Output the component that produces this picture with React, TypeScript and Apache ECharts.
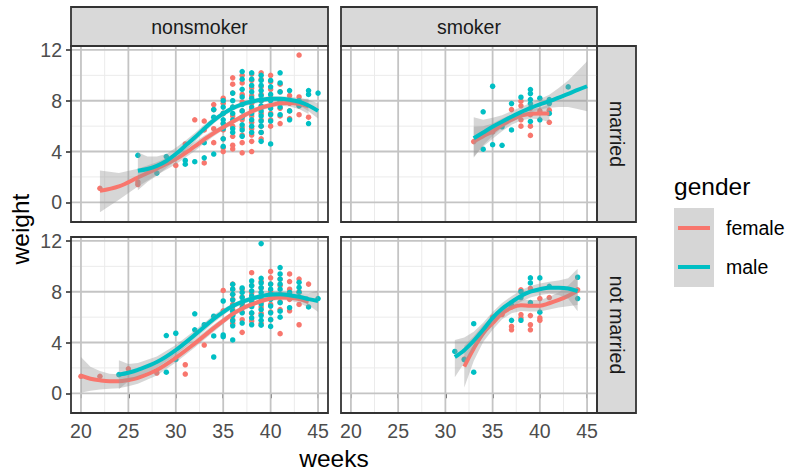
import React, { useEffect, useRef } from "react";
import * as echarts from "echarts";

const FEMALE = "#F8766D";
const MALE = "#00BFC4";
const FONT = '"Liberation Sans", Arial, Helvetica, sans-serif';

const weekTicks = [20, 25, 30, 35, 40, 45];
const weekMinor = [22.5, 27.5, 32.5, 37.5, 42.5];
const weightTicks = [0, 4, 8, 12];
const weightMinor = [2, 6, 10];
const smokeLevels = ["nonsmoker", "smoker"];
const maritalLevels = ["married", "not married"];
const genderLevels = ["female", "male"];

// points: [week, weight, weight, ...]
const ptsNsMarF = [
  [22, 1.1], [26, 1.4, 1.6], [30, 2.9], [31, 4.6], [32, 6.5], [33, 6.4, 5.7, 3.1],
  [34, 7.7, 7.3, 5.8, 4.7], [35, 8.2, 7.8, 7.0, 6.2, 5.7, 5.0, 4.3, 4.0],
  [36, 9.8, 9.3, 8.6, 7.5, 6.8, 6.0, 5.2, 4.5, 4.2],
  [37, 10.0, 9.4, 8.5, 7.9, 7.2, 6.5, 5.9, 5.3, 4.7, 3.9],
  [38, 10.1, 9.6, 9.0, 8.4, 7.8, 7.3, 6.8, 6.3, 5.8, 5.3, 4.8, 4.0],
  [39, 10.2, 9.7, 9.1, 8.5, 8.0, 7.5, 7.0, 6.5, 6.0, 5.5, 5.0],
  [40, 10.0, 9.5, 8.9, 8.2, 7.6, 7.0, 6.5, 6.0], [41, 9.3, 8.7, 8.0, 7.4, 6.8, 6.2],
  [42, 8.4, 7.8, 7.2, 6.6], [43, 11.6, 8.3, 7.6, 6.9], [44, 6.7],
];
const ptsNsMarM = [
  [26, 3.7], [28, 2.3], [29, 3.6], [31, 3.3, 3.0], [32, 3.2], [33, 4.7, 3.5], [34, 7.3, 6.7, 3.8],
  [35, 8.0, 7.5, 7.0, 6.5, 6.2, 5.8, 5.0, 4.4], [36, 8.6, 8.0, 7.5, 7.0, 6.5, 5.8, 5.5],
  [37, 10.3, 9.7, 8.9, 8.3, 7.7, 7.2, 6.7, 6.1, 5.7, 5.2],
  [38, 10.2, 9.7, 9.2, 8.7, 8.2, 7.5, 7.0, 6.5, 6.0, 5.5],
  [39, 10.0, 9.6, 9.2, 8.8, 8.4, 8.0, 7.6, 7.2, 6.8, 6.4, 6.0, 5.5, 4.8],
  [40, 9.6, 9.1, 8.5, 8.0, 7.4, 6.9, 6.4, 4.6], [41, 10.2, 9.4, 8.7, 8.0, 7.5, 6.9],
  [42, 8.8, 7.2, 6.5], [43, 8.0, 7.6], [44, 8.8, 8.5, 6.2], [45, 8.6],
];
const ptsSmMarF = [
  [33, 4.78], [35, 5.54], [37, 7.3], [38, 7.96, 7.6, 6.5, 6.0], [39, 7.4, 6.9, 6.0, 5.27],
  [40, 7.2], [41, 7.26, 6.3],
];
const ptsSmMarM = [
  [34, 7.13, 4.18], [35, 9.14, 4.54], [36, 5.95, 4.49], [37, 7.78, 5.7], [38, 8.28],
  [39, 8.88, 8.56, 8.09, 7.78, 6.37], [40, 8.2, 6.5], [41, 8.09, 7.78, 7.0], [43, 9.09],
];
const ptsNsNotF = [
  [20, 1.34], [22, 1.34], [25, 1.93], [28, 1.6], [31, 2.25, 1.52], [33, 3.8], [35, 8.1, 6.5],
  [36, 8.6, 8.2, 7.8, 7.4, 7.0, 6.6, 6.2, 5.8, 5.5], [37, 8.2, 7.6, 7.0, 6.4, 5.8, 4.8],
  [38, 9.5, 8.5, 7.9, 7.3, 6.9, 6.3, 5.7], [39, 8.8, 8.3, 7.7, 7.2, 6.8, 6.3, 5.5],
  [40, 9.6, 9.1, 8.6, 8.0, 7.5, 7.0, 6.4, 5.8], [41, 9.0, 8.5, 7.8, 7.2, 6.6, 4.7],
  [42, 9.4, 8.8, 8.2, 7.4, 6.5], [43, 9.0, 8.0, 7.0, 5.4], [44, 8.6],
];
const ptsNsNotM = [
  [24, 1.47], [29, 4.55, 1.66], [30, 4.73, 2.67], [32, 6.26, 5.0], [33, 5.4], [34, 6.07, 4.52, 2.86],
  [35, 7.27, 4.6, 4.46], [36, 8.58, 8.2, 7.8, 7.35, 6.87, 6.47, 6.12, 5.72, 5.32, 4.2],
  [37, 8.3, 7.94, 7.54, 7.14, 6.74, 6.34, 5.53], [38, 8.85, 8.48, 8.07, 7.67, 7.25, 6.82, 6.34, 5.94, 5.4],
  [39, 11.79, 9.06, 8.69, 8.32, 7.94, 7.46, 7.03, 6.6, 6.12, 5.75, 5.37],
  [40, 8.6, 8.2, 7.8, 7.4, 6.87, 6.34, 5.8, 5.27], [41, 9.9, 9.4, 9.0, 8.6, 8.2, 7.67, 7.14, 6.47, 6.0],
  [42, 7.94, 6.74], [43, 8.74, 8.34, 7.94], [44, 6.8], [45, 7.46],
];
const ptsSmNotF = [
  [32, 2.7], [34, 4.9], [35, 6.0], [36, 6.2], [37, 6.8, 5.27, 5.0], [38, 8.15, 6.2, 5.94],
  [39, 8.26, 6.12, 5.4, 5.0], [40, 7.46, 5.94, 5.75], [41, 7.54], [44, 8.15],
];
const ptsSmNotM = [
  [31, 3.3], [32, 2.65], [33, 5.48, 1.66], [37, 6.95, 5.75], [38, 8.0, 7.54, 5.75],
  [39, 9.09, 8.69, 7.14], [40, 9.09, 6.39], [41, 8.42], [44, 9.14, 7.46],
];

// loess fits: [week, fit, lower, upper]
const fitNsMarF = [
  [22, 0.9, -0.78, 2.5], [24, 1.25, 0.2, 2.3], [26, 1.95, 1.25, 2.65], [28, 2.65, 2.15, 3.15],
  [30, 3.4, 3.0, 3.8], [32, 4.4, 4.05, 4.75], [33, 4.95, 4.65, 5.25], [34, 5.45, 5.2, 5.7],
  [35, 5.9, 5.7, 6.1], [36, 6.35, 6.15, 6.55], [37, 6.75, 6.55, 6.95], [38, 7.15, 6.95, 7.35],
  [39, 7.45, 7.25, 7.65], [40, 7.65, 7.45, 7.85], [41, 7.8, 7.6, 8.0], [42, 7.83, 7.55, 8.1],
  [43, 7.75, 7.35, 8.15], [44, 7.55, 6.95, 8.15],
];
const fitNsMarM = [
  [26, 2.48, 0.95, 3.95], [27, 2.62, 1.6, 3.6], [28, 2.87, 2.1, 3.6], [29, 3.25, 2.7, 3.8],
  [30, 3.8, 3.3, 4.3], [31, 4.45, 4.05, 4.85], [32, 5.1, 4.75, 5.45], [33, 5.8, 5.5, 6.1],
  [34, 6.45, 6.2, 6.7], [35, 6.98, 6.78, 7.18], [36, 7.42, 7.22, 7.62], [37, 7.72, 7.52, 7.92],
  [38, 7.92, 7.72, 8.12], [39, 8.07, 7.87, 8.27], [40, 8.15, 7.95, 8.35], [41, 8.15, 7.95, 8.35],
  [42, 8.08, 7.85, 8.31], [43, 7.92, 7.62, 8.22], [44, 7.62, 7.17, 8.07], [45, 7.2, 6.6, 7.8],
];
const fitSmMarF = [
  [33, 4.78, 3.6, 5.95], [34, 5.2, 4.4, 6.0], [35, 5.6, 5.0, 6.2], [36, 6.1, 5.6, 6.6],
  [37, 6.5, 6.1, 6.9], [38, 6.82, 6.45, 7.2], [39, 6.98, 6.6, 7.36], [40, 7.0, 6.55, 7.45],
  [41, 7.0, 6.3, 7.7],
];
const fitSmMarM = [
  [33, 5.04, 3.5, 6.7], [34, 5.5, 4.5, 6.5], [35, 5.95, 5.25, 6.65], [36, 6.35, 5.85, 6.85],
  [37, 6.74, 6.3, 7.18], [38, 7.1, 6.7, 7.5], [39, 7.44, 7.05, 7.83], [40, 7.72, 7.3, 8.14],
  [41, 7.96, 7.45, 8.47], [42, 8.25, 7.5, 9.0], [43, 8.54, 7.5, 9.6], [44, 8.85, 7.35, 10.35],
  [45, 9.14, 7.18, 11.1],
];
const fitNsNotF = [
  [20, 1.39, 0.05, 2.86], [21, 1.15, 0.2, 2.1], [22, 1.02, 0.3, 1.75], [23, 0.95, 0.35, 1.55],
  [24, 0.95, 0.4, 1.5], [25, 1.05, 0.55, 1.55], [26, 1.22, 0.75, 1.7], [28, 1.84, 1.4, 2.28],
  [30, 2.8, 2.42, 3.18], [32, 3.93, 3.6, 4.26], [34, 5.13, 4.85, 5.41], [35, 5.7, 5.45, 5.95],
  [36, 6.25, 6.05, 6.45], [37, 6.68, 6.48, 6.88], [38, 7.0, 6.82, 7.18], [39, 7.27, 7.09, 7.45],
  [40, 7.46, 7.28, 7.64], [41, 7.54, 7.35, 7.73], [42, 7.52, 7.3, 7.74], [43, 7.42, 7.12, 7.72],
  [44, 7.2, 6.75, 7.65],
];
const fitNsNotM = [
  [24, 1.47, 0.32, 2.6], [25, 1.62, 0.95, 2.3], [26, 1.84, 1.3, 2.38], [28, 2.46, 2.02, 2.9],
  [30, 3.4, 3.0, 3.8], [32, 4.6, 4.26, 4.94], [34, 5.86, 5.56, 6.16], [35, 6.4, 6.15, 6.65],
  [36, 6.87, 6.67, 7.07], [37, 7.2, 7.0, 7.4], [38, 7.46, 7.27, 7.65], [39, 7.65, 7.46, 7.84],
  [40, 7.78, 7.59, 7.97], [41, 7.8, 7.6, 8.0], [42, 7.73, 7.5, 7.96], [43, 7.6, 7.3, 7.9],
  [44, 7.42, 6.95, 7.89], [45, 7.27, 6.4, 8.1],
];
const fitSmNotF = [
  [32, 2.11, 0.45, 3.75], [33, 3.53, 2.55, 4.5], [34, 4.73, 4.05, 5.4], [35, 5.53, 5.0, 6.05],
  [36, 6.28, 5.83, 6.73], [37, 6.74, 6.3, 7.18], [38, 6.93, 6.48, 7.38], [39, 6.9, 6.45, 7.35],
  [40, 6.9, 6.45, 7.35], [41, 7.09, 6.6, 7.58], [42, 7.35, 6.75, 7.95], [43, 7.67, 6.85, 8.5],
  [44, 8.07, 6.95, 9.2],
];
const fitSmNotM = [
  [31, 2.86, 1.26, 4.2], [32, 3.4, 2.4, 4.4], [33, 4.14, 3.45, 4.85], [34, 5.0, 4.45, 5.55],
  [35, 5.94, 5.48, 6.4], [36, 6.66, 6.2, 7.12], [37, 7.19, 6.74, 7.64], [38, 7.67, 7.22, 8.12],
  [39, 8.0, 7.55, 8.45], [40, 8.2, 7.75, 8.65], [41, 8.32, 7.85, 8.79], [42, 8.32, 7.75, 8.89],
  [43, 8.26, 7.45, 9.07], [44, 8.05, 6.47, 9.8],
];

const panelPoints = [
  [ptsNsMarF, ptsNsMarM], [ptsSmMarF, ptsSmMarM],
  [ptsNsNotF, ptsNsNotM], [ptsSmNotF, ptsSmNotM],
];
const panelFits = [
  [fitNsMarF, fitNsMarM], [fitSmMarF, fitSmMarM],
  [fitNsNotF, fitNsNotM], [fitSmNotF, fitSmNotM],
];

const X_MIN = 18.95, X_MAX = 46.05, Y_MIN = -1.55, Y_MAX = 12.31;
const gridRects = [
  { left: 71, top: 46, width: 257, height: 176 },
  { left: 341, top: 46, width: 256, height: 176 },
  { left: 71, top: 237, width: 257, height: 176 },
  { left: 341, top: 237, width: 256, height: 176 },
];
const colors = [FEMALE, MALE];

const flat = (rows: number[][]) => rows.flatMap((r) => r.slice(1).map((w) => [r[0], w]));

function buildOption() {
  const xAxis: any[] = [];
  const yAxis: any[] = [];
  const series: any[] = [];
  gridRects.forEach((g, i) => {
    const isBottom = i >= 2;
    const isLeft = i % 2 === 0;
    xAxis.push({
      type: "value", gridIndex: i, min: X_MIN, max: X_MAX,
      axisLine: { show: false }, splitLine: { show: false },
      axisTick: { show: isBottom, length: 5, customValues: weekTicks, lineStyle: { color: "#333333", width: 1.6 } },
      axisLabel: { show: isBottom, customValues: weekTicks, color: "#4D4D4D", fontSize: 19.5, fontFamily: FONT, margin: 8 },
    });
    yAxis.push({
      type: "value", gridIndex: i, min: Y_MIN, max: Y_MAX,
      axisLine: { show: false }, splitLine: { show: false },
      axisTick: { show: isLeft, length: 5, customValues: weightTicks, lineStyle: { color: "#333333", width: 1.6 } },
      axisLabel: { show: isLeft, customValues: weightTicks, color: "#4D4D4D", fontSize: 19.5, fontFamily: FONT, margin: 9 },
    });
    // panel grid lines
    series.push({
      type: "custom", xAxisIndex: i, yAxisIndex: i, z: 1, silent: true, data: [[30, 5]],
      renderItem: (params: any, api: any) => {
        const cs = params.coordSys;
        const children: any[] = [];
        const vline = (v: number, stroke: string, w: number) => {
          const x = api.coord([v, 0])[0];
          children.push({ type: "line", shape: { x1: x, y1: cs.y, x2: x, y2: cs.y + cs.height }, style: { stroke, lineWidth: w } });
        };
        const hline = (v: number, stroke: string, w: number) => {
          const y = api.coord([30, v])[1];
          children.push({ type: "line", shape: { x1: cs.x, y1: y, x2: cs.x + cs.width, y2: y }, style: { stroke, lineWidth: w } });
        };
        weekMinor.forEach((v) => vline(v, "#EBEBEB", 1));
        weightMinor.forEach((v) => hline(v, "#EBEBEB", 1));
        weekTicks.forEach((v) => vline(v, "#C4C4C4", 1.8));
        weightTicks.forEach((v) => hline(v, "#C4C4C4", 1.8));
        return { type: "group", children };
      },
    });
    // panel frame
    series.push({
      type: "custom", xAxisIndex: i, yAxisIndex: i, z: 20, silent: true, data: [[30, 5]],
      renderItem: (params: any) => {
        const cs = params.coordSys;
        return { type: "rect", shape: { x: cs.x, y: cs.y, width: cs.width, height: cs.height }, style: { fill: "none", stroke: "#333333", lineWidth: 1.8 } };
      },
    });
    panelPoints[i].forEach((pts, k) => {
      series.push({
        type: "scatter", name: genderLevels[k], xAxisIndex: i, yAxisIndex: i, z: 2, silent: true,
        data: flat(pts), symbolSize: 5.5, itemStyle: { color: colors[k], opacity: 1 },
      });
    });
    panelFits[i].forEach((fit, k) => {
      series.push({
        type: "custom", xAxisIndex: i, yAxisIndex: i, z: 3 + k * 2, silent: true, clip: true, data: [[30, 5]],
        renderItem: (_p: any, api: any) => {
          const up = fit.map((r) => api.coord([r[0], r[3]]));
          const lo = fit.slice().reverse().map((r) => api.coord([r[0], r[2]]));
          return { type: "polygon", shape: { points: up.concat(lo) }, style: { fill: "rgba(153,153,153,0.4)" } };
        },
      });
      series.push({
        type: "line", name: genderLevels[k], xAxisIndex: i, yAxisIndex: i, z: 4 + k * 2, silent: true,
        data: fit.map((r) => [r[0], r[1]]), showSymbol: false, symbol: "none", smooth: 0.35,
        lineStyle: { color: colors[k], width: 4 },
      });
    });
  });

  const txt = (text: string, x: number, y: number, size: number, fill: string, rotation = 0, align = "center") => ({
    type: "text", x, y, rotation, silent: true,
    style: { text, fill, fontSize: size, fontFamily: FONT, align, verticalAlign: "middle", textAlign: align, textVerticalAlign: "middle" },
  });

  const graphic: any[] = [];
  smokeLevels.forEach((s, c) => {
    const g = gridRects[c];
    graphic.push({ type: "rect", shape: { x: g.left, y: 7, width: g.width, height: 39 }, style: { fill: "#D9D9D9", stroke: "#333333", lineWidth: 1.8 } });
    graphic.push(txt(s, g.left + g.width / 2, 27, 19.5, "#1A1A1A"));
  });
  maritalLevels.forEach((m, r) => {
    const g = gridRects[r * 2 + 1];
    graphic.push({ type: "rect", shape: { x: g.left + g.width, y: g.top, width: 39, height: g.height }, style: { fill: "#D9D9D9", stroke: "#333333", lineWidth: 1.8 } });
    graphic.push(txt(m, g.left + g.width + 19.5, g.top + g.height / 2, 19.5, "#1A1A1A", -Math.PI / 2));
  });
  graphic.push(txt("weeks", 334, 458, 24.5, "#000000"));
  graphic.push(txt("weight", 20, 229, 24.5, "#000000", Math.PI / 2));
  graphic.push(txt("gender", 674, 186, 24.5, "#000000", 0, "left"));
  graphic.push({ type: "rect", shape: { x: 674, y: 208, width: 40, height: 79 }, style: { fill: "#D6D6D6" } });
  genderLevels.forEach((gname, k) => {
    const y = 228 + k * 39;
    graphic.push({ type: "line", shape: { x1: 678, y1: y, x2: 710, y2: y }, style: { stroke: colors[k], lineWidth: 4 } });
    graphic.push(txt(gname, 726, y, 19.5, "#000000", 0, "left"));
  });

  return {
    animation: false,
    backgroundColor: "#FFFFFF",
    grid: gridRects.map((g) => ({ ...g, show: true, backgroundColor: "#FFFFFF", borderWidth: 0 })),
    xAxis,
    yAxis,
    series,
    graphic,
  };
}

export default function App() {
  const ref = useRef<HTMLDivElement>(null);
  useEffect(() => {
    if (!ref.current) return;
    const chart = echarts.init(ref.current, undefined, { renderer: "svg" });
    chart.setOption(buildOption() as any);
    return () => chart.dispose();
  }, []);
  return <div ref={ref} style={{ position: "fixed", left: 0, top: 0, width: 787, height: 471 }} />;
}
